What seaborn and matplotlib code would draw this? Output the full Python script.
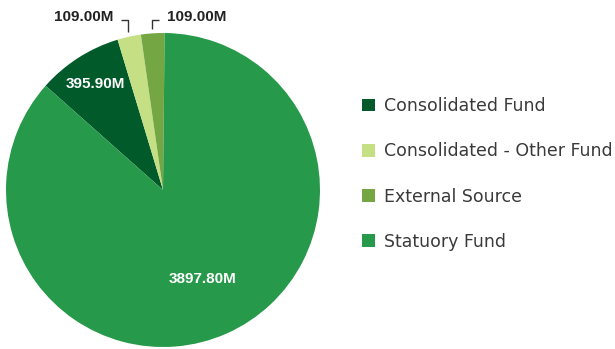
import numpy as np
import matplotlib
matplotlib.use("Agg")
import matplotlib.pyplot as plt
import seaborn as sns

# Funding sources (millions)
sources = ["Consolidated Fund", "Consolidated - Other Fund", "External Source", "Statuory Fund"]
amounts = [395.90, 109.00, 109.00, 3897.80]
value_labels = ["395.90M", "109.00M", "109.00M", "3897.80M"]
palette = ["#015a29", "#c4df84", "#74a744", "#27994a"]

sns.set_style("white")
plt.rcParams["font.family"] = ["DejaVu Sans"]

W, H = 615, 349
fig = plt.figure(figsize=(W / 100, H / 100), dpi=100)
fig.patch.set_facecolor("white")

# pie centred at (163, 190) px with a 157 px radius
cx, cy, r = 163, 190, 157
ax = fig.add_axes([(cx - r) / W, (H - cy - r) / H, 2 * r / W, 2 * r / H])
wedges, _ = ax.pie(amounts, colors=palette, startangle=138.4, counterclock=False,
                   radius=1.0, wedgeprops=dict(linewidth=0))
ax.set_xlim(-1, 1)
ax.set_ylim(-1, 1)
ax.set_aspect("equal")
ax.axis("off")

label_font = dict(family=["Liberation Sans", "DejaVu Sans"], fontsize=11, fontweight="bold")
inner_radius = {0: 0.80, 3: 0.62}
outside_side = {1: -1, 2: 1}
for i, (w, txt) in enumerate(zip(wedges, value_labels)):
    mid = np.deg2rad((w.theta1 + w.theta2) / 2)
    if i in inner_radius:
        rr = inner_radius[i]
        ax.text(rr * np.cos(mid), rr * np.sin(mid), txt, color="white",
                ha="center", va="center", **label_font)
    else:
        # small slice: elbow leader line above the rim
        x0, y0 = 1.03 * np.cos(mid), 1.03 * np.sin(mid)
        ytop = 1.08
        side = outside_side[i]
        x1 = x0 + side * 0.045
        ax.plot([x0, x0, x1], [y0, ytop, ytop], color="#333333", lw=1,
                clip_on=False, solid_capstyle="butt")
        ax.text(x1 + side * 0.05, ytop + 0.02, txt, color="#222222",
                ha="left" if side > 0 else "right", va="center", clip_on=False,
                **label_font)

leg = fig.legend(wedges, sources, loc="upper left",
                 bbox_to_anchor=(362 / W, 1 - 97 / H), frameon=False,
                 prop=dict(family="DejaVu Sans", size=12.5),
                 handlelength=0.75, handleheight=0.75,
                 handletextpad=0.5, labelspacing=1.57, borderpad=0,
                 borderaxespad=0)
for t in leg.get_texts():
    t.set_color("#3a3a3a")

fig.savefig("out.png", dpi=100, facecolor="white")
